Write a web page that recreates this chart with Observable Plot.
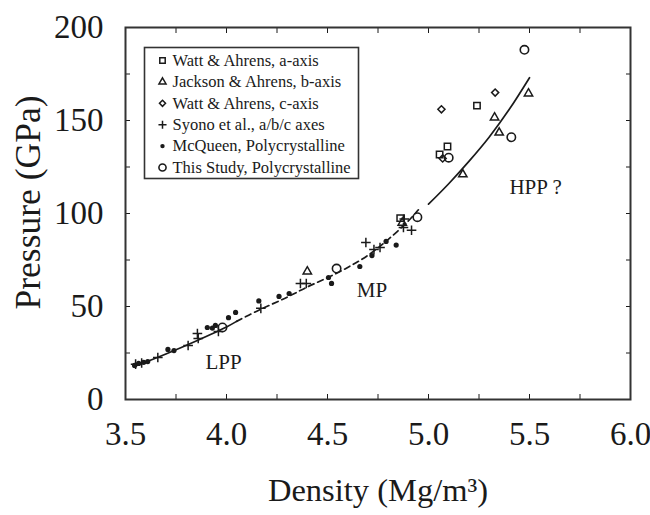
<!DOCTYPE html>
<html>
<head>
<meta charset="utf-8">
<script src="https://cdn.jsdelivr.net/npm/d3@7"></script>
<script src="https://cdn.jsdelivr.net/npm/@observablehq/plot@0.6"></script>
<style>
  html, body { margin: 0; padding: 0; background: #fff; }
  #chart { width: 650px; height: 515px; }
</style>
</head>
<body>
<div id="chart"></div>
<script>
// ---- Data (density Mg/m^3, pressure GPa) ----
const wattA = [[4.86, 97.5], [5.055, 131.7], [5.094, 136], [5.24, 158]];
const jacksonB = [[4.40, 68.8], [4.87, 95], [5.17, 121], [5.327, 151.6], [5.35, 143.5], [5.495, 164.5]];
const wattC = [[5.064, 156], [5.07, 129.6], [5.33, 165]];
const syono = [[3.55, 19], [3.58, 19.6], [3.66, 22.6], [3.81, 29], [3.856, 35.5], [3.86, 32.8], [3.96, 36.6],
  [4.17, 49], [4.366, 62.4], [4.395, 62.4], [4.69, 84.4], [4.73, 80.6], [4.76, 81.7], [4.876, 92.5], [4.916, 91], [4.88, 97]];
const mcqueen = [[3.545, 18.3], [3.565, 19.4], [3.59, 20], [3.61, 20.4], [3.71, 26.9], [3.74, 26.3], [3.905, 38.7],
  [3.93, 38.4], [3.945, 39.8], [4.01, 44], [4.045, 46.8], [4.16, 53], [4.26, 55.4], [4.31, 57], [4.505, 65.6],
  [4.52, 62.4], [4.66, 71.5], [4.72, 77.4], [4.79, 85], [4.84, 83]];
const thisStudy = [[3.98, 38.7], [4.545, 70.4], [4.945, 98], [5.10, 130], [5.41, 141], [5.475, 188]];

const lppCurve = [[3.55, 18], [3.7, 24.5], [3.85, 31.5], [4.0, 39], [4.05, 42]];
const mpCurve = [[4.05, 42], [4.15, 47.5], [4.3, 55], [4.4, 60.5], [4.5, 65.5], [4.6, 71], [4.7, 77.5], [4.8, 86], [4.9, 96], [4.95, 102]];
const hppCurve = [[5.0, 105], [5.1, 116], [5.2, 128], [5.3, 141], [5.4, 156], [5.5, 173]];

const phaseLabels = [["LPP", 3.985, 20], ["MP", 4.72, 58.6], ["HPP ?", 5.53, 114]];

const legendLabels = ["Watt & Ahrens, a-axis", "Jackson & Ahrens, b-axis", "Watt & Ahrens, c-axis",
  "Syono et al., a/b/c axes", "McQueen, Polycrystalline", "This Study, Polycrystalline"];

const xMajor = [3.5, 4.0, 4.5, 5.0, 5.5, 6.0];
const xAllTicks = [3.5, 3.75, 4.0, 4.25, 4.5, 4.75, 5.0, 5.25, 5.5, 5.75, 6.0];
const yMajor = [0, 50, 100, 150, 200];
const yAllTicks = [0, 25, 50, 75, 100, 125, 150, 175, 200];

const xLabel = "Density (Mg/m³)";
const yLabel = "Pressure (GPa)";

// ---- Styles ----
const FONT = "'Liberation Serif', 'Times New Roman', serif";
const INK = "#1a1a1a";
const styles = [
  {data: wattA, symbol: "square", r: 3.6, fill: "none", stroke: INK, strokeWidth: 1.5},
  {data: jacksonB, symbol: "triangle", r: 3.1, fill: "none", stroke: INK, strokeWidth: 1.5},
  {data: wattC, symbol: "diamond2", r: 3.2, fill: "none", stroke: INK, strokeWidth: 1.5},
  {data: syono, symbol: "plus", r: 3.2, fill: "none", stroke: INK, strokeWidth: 1.5},
  {data: mcqueen, symbol: "circle", r: 2.6, fill: INK, stroke: "none", strokeWidth: 0},
  {data: thisStudy, symbol: "circle", r: 4.2, fill: "none", stroke: INK, strokeWidth: 1.6}
];

const tickOpts = {fontSize: 33, fontFamily: FONT, color: INK, label: null};

const marks = [
  // inward ticks on all four sides
  Plot.axisX({ticks: xAllTicks, anchor: "bottom", tickSize: 5, dy: -5, tickFormat: () => "", label: null, stroke: INK}),
  Plot.axisX({ticks: xAllTicks, anchor: "top", tickSize: 5, dy: 5, tickFormat: () => "", label: null, stroke: INK}),
  Plot.axisY({ticks: yAllTicks, anchor: "left", tickSize: 5, dx: 5, tickFormat: () => "", label: null, stroke: INK}),
  Plot.axisY({ticks: yAllTicks, anchor: "right", tickSize: 5, dx: -5, tickFormat: () => "", label: null, stroke: INK}),
  // tick labels
  Plot.axisX({ticks: xMajor, anchor: "bottom", tickSize: 0, tickPadding: 22, tickFormat: d3.format(".1f"), ...tickOpts}),
  Plot.axisY({ticks: yMajor, anchor: "left", tickSize: 0, tickPadding: 22, tickFormat: d3.format("d"), ...tickOpts}),
  // curves
  Plot.line(lppCurve, {x: d => d[0], y: d => d[1], stroke: INK, strokeWidth: 1.7, curve: "catmull-rom"}),
  Plot.line(mpCurve, {x: d => d[0], y: d => d[1], stroke: INK, strokeWidth: 1.7, strokeDasharray: "6,4", curve: "catmull-rom"}),
  Plot.line(hppCurve, {x: d => d[0], y: d => d[1], stroke: INK, strokeWidth: 1.7, curve: "catmull-rom"}),
  // data points
  ...styles.map(s => Plot.dot(s.data, {x: d => d[0], y: d => d[1], symbol: () => s.symbol, r: s.r,
    fill: s.fill, stroke: s.stroke, strokeWidth: s.strokeWidth})),
  // phase labels
  Plot.text(phaseLabels, {x: d => d[1], y: d => d[2], text: d => d[0], fontSize: 21, fontFamily: FONT, fill: INK}),
  // legend box
  Plot.frame({insetLeft: 19, insetTop: 20, insetRight: 272, insetBottom: 221, fill: "white", stroke: "#333", strokeWidth: 1.6}),
  ...legendLabels.flatMap((lab, i) => [
    Plot.dot([lab], {frameAnchor: "top-left", dx: 37, dy: 33 + i * 21.4, symbol: () => styles[i].symbol,
      r: styles[i].r * 0.85, fill: styles[i].fill, stroke: styles[i].stroke, strokeWidth: styles[i].strokeWidth}),
    Plot.text([lab], {frameAnchor: "top-left", dx: 47, dy: 33 + i * 21.4, text: d => d, textAnchor: "start",
      lineAnchor: "middle", fontSize: 16.5, fontFamily: FONT, fill: INK})
  ]),
  // axis titles
  Plot.text([xLabel], {frameAnchor: "bottom", dy: 91, text: d => d, lineAnchor: "middle", textAnchor: "middle",
    fontSize: 32.5, fontFamily: FONT, fill: INK}),
  Plot.text([yLabel], {frameAnchor: "left", dx: -97, dy: -11, rotate: -90, text: d => d, lineAnchor: "middle", textAnchor: "middle",
    fontSize: 35.5, fontFamily: FONT, fill: INK}),
  // plot frame
  Plot.frame({stroke: "#333", strokeWidth: 2})
];

const chart = Plot.plot({
  width: 650,
  height: 515,
  marginLeft: 125,
  marginRight: 20,
  marginTop: 27,
  marginBottom: 116,
  x: {domain: [3.5, 6.0]},
  y: {domain: [0, 200]},
  style: {fontFamily: FONT, background: "white", color: INK},
  marks
});
document.getElementById("chart").appendChild(chart);
</script>
</body>
</html>
